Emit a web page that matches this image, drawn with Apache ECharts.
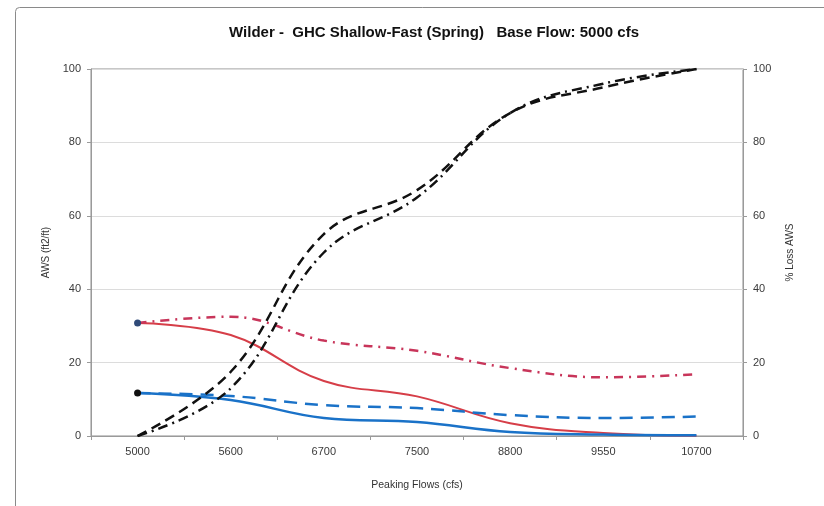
<!DOCTYPE html>
<html>
<head>
<meta charset="utf-8">
<script src="https://cdn.jsdelivr.net/npm/echarts@6/dist/echarts.min.js"></script>
<style>
html,body{margin:0;padding:0;background:#fff;}
#c{width:824px;height:506px;}
</style>
</head>
<body>
<div id="c"></div>
<script>
var categories = ['5000','5600','6700','7500','8800','9550','10700'];
var awsRedSolid = [30.8, 27.5, 15.0, 10.8, 3.5, 0.8, 0.1];
var awsRedDashDot = [30.8, 32.5, 26.0, 23.2, 18.5, 16.0, 16.8];
var awsBlueSolid = [11.7, 9.8, 4.9, 3.8, 1.1, 0.4, 0.2];
var awsBlueDashed = [11.7, 10.9, 8.4, 7.6, 5.7, 4.9, 5.3];
var lossDashed = [0, 17.5, 55, 67, 88, 95, 100];
var lossDashDot = [0, 13, 50, 65, 88, 96, 100];
var yTicks = [0, 20, 40, 60, 80, 100];

function firstMarker(arr, color){
  return arr.map(function(v, i){
    if (i === 0) return {value: v, symbol: 'circle', symbolSize: 7, itemStyle: {color: color}};
    return {value: v, symbol: 'none'};
  });
}

var font = 'Liberation Sans, Arial, sans-serif';
var chart = echarts.init(document.getElementById('c'), null, {renderer: 'canvas'});
var yAxisCommon = {
  type: 'value', min: yTicks[0], max: yTicks[yTicks.length-1], interval: 20,
  axisLine: {show: true, lineStyle: {color: '#9a9a9a', width: 1}},
  axisTick: {show: true, length: 4, lineStyle: {color: '#9a9a9a'}},
  axisLabel: {color: '#3a3a3a', fontSize: 11, fontFamily: font, margin: 10},
  nameLocation: 'middle',
  nameTextStyle: {color: '#333', fontSize: 10, fontFamily: font}
};
chart.setOption({
  animation: false,
  backgroundColor: '#fff',
  graphic: [{
    type: 'rect', shape: {x: 15.5, y: 7.5, width: 900, height: 600, r: 4},
    style: {fill: 'none', stroke: '#8a8a8a', lineWidth: 1}, silent: true
  }],
  title: {
    text: 'Wilder -  GHC Shallow-Fast (Spring)   Base Flow: 5000 cfs',
    left: 429, top: 20, textAlign: 'center',
    textStyle: {fontSize: 15, fontWeight: 'bold', color: '#111', fontFamily: font}
  },
  grid: {left: 91, right: 81, top: 69, bottom: 70, show: true, borderColor: '#8f8f8f', borderWidth: 1},
  xAxis: {
    type: 'category', data: categories, boundaryGap: true,
    name: 'Peaking Flows (cfs)', nameLocation: 'middle', nameGap: 44,
    nameTextStyle: {color: '#333', fontSize: 10.5, fontFamily: font},
    axisLine: {lineStyle: {color: '#9a9a9a'}},
    axisTick: {show: true, length: 4, lineStyle: {color: '#9a9a9a'}},
    axisLabel: {color: '#3a3a3a', fontSize: 11, fontFamily: font, margin: 10}
  },
  yAxis: [
    Object.assign({}, yAxisCommon, {
      position: 'left', name: 'AWS (ft2/ft)', nameGap: 36,
      splitLine: {show: true, lineStyle: {color: '#dcdcdc', width: 1}}
    }),
    Object.assign({}, yAxisCommon, {
      position: 'right', name: '% Loss AWS', nameGap: 42, nameRotate: 90,
      splitLine: {show: false}
    })
  ],
  series: [
    {name: 'AWS red', type: 'line', yAxisIndex: 0, smooth: 0.4,
     data: firstMarker(awsRedSolid, '#2f4a78'),
     lineStyle: {color: '#d63e48', width: 2}, itemStyle: {color: '#2f4a78'}},
    {name: 'AWS red alt', type: 'line', yAxisIndex: 0, smooth: 0.4, symbol: 'none',
     data: awsRedDashDot,
     lineStyle: {color: '#c8355a', width: 2.5, type: [9, 6, 2, 6]}},
    {name: 'AWS blue', type: 'line', yAxisIndex: 0, smooth: 0.4,
     data: firstMarker(awsBlueSolid, '#111111'),
     lineStyle: {color: '#1a72c8', width: 2.5}, itemStyle: {color: '#111'}},
    {name: 'AWS blue alt', type: 'line', yAxisIndex: 0, smooth: 0.4, symbol: 'none',
     data: awsBlueDashed,
     lineStyle: {color: '#1a72c8', width: 2.5, type: [13, 8]}},
    {name: 'Loss dashed', type: 'line', yAxisIndex: 1, smooth: 0.4, symbol: 'none',
     data: lossDashed,
     lineStyle: {color: '#111', width: 2.5, type: [10, 6]}},
    {name: 'Loss dashdot', type: 'line', yAxisIndex: 1, smooth: 0.4, symbol: 'none',
     data: lossDashDot,
     lineStyle: {color: '#111', width: 2.5, type: [10, 5, 2, 5]}}
  ]
});
</script>
</body>
</html>
